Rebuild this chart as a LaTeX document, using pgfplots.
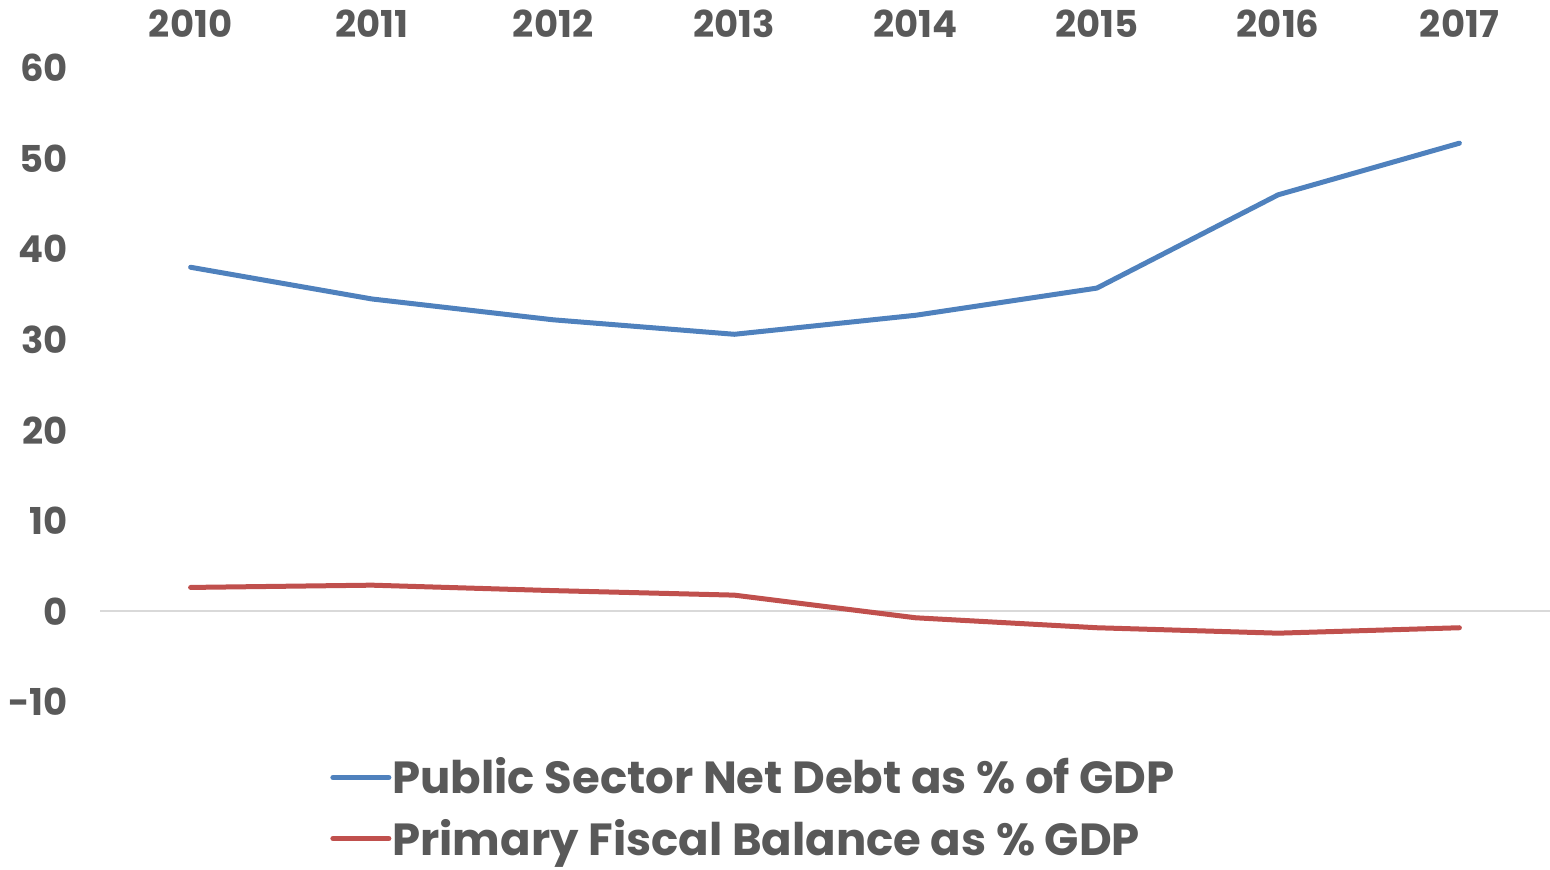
\documentclass[border=0pt]{standalone}
\usepackage{pgfplots}
\pgfplotsset{compat=1.18}
\usepackage{fontspec}
\setmainfont{Poppins}
\definecolor{txt}{HTML}{595959}
\definecolor{sblue}{HTML}{4F81BD}
\definecolor{sred}{HTML}{C0504D}
\begin{document}
\begin{tikzpicture}
\useasboundingbox (-50pt,-83.5pt) rectangle (725pt,351pt);
\begin{axis}[
  at={(0,0)}, anchor=south west,
  scale only axis, width=725pt, height=317pt,
  xmin=-0.5, xmax=7.5, ymin=-10, ymax=60,
  axis line style={draw=none},
  xtick={0,...,7},
  xticklabels={2010,2011,2012,2013,2014,2015,2016,2017},
  ytick={-10,0,...,60},
  xticklabel pos=upper,
  yticklabel pos=left,
  major tick length=0pt,
  tick style={draw=none},
  tick label style={font=\bfseries\fontsize{18.5}{21}\selectfont, text=txt},
  xticklabel style={yshift=11.5pt},
  yticklabel style={xshift=-12.5pt},
  /pgf/number format/assume math mode=true,
  clip=false,
  legend style={draw=none, fill=none, at={(0.1586,-0.086)}, anchor=north west,
    font=\bfseries\fontsize{22.5}{27}\selectfont, text=txt, inner sep=0pt,
    row sep=10pt, nodes={inner sep=0.5pt}},
  legend cell align=left,
  legend image code/.code={\draw[#1, line width=2.5pt] (0pt,0pt) -- (28pt,0pt);},
]
\addplot[forget plot, draw=black!15, line width=1pt] coordinates {(-0.5,0) (7.5,0)};
\addplot[sblue, line width=2.5pt, line cap=round, line join=round] coordinates {
 (0,38.0) (1,34.5) (2,32.2) (3,30.6) (4,32.7) (5,35.7) (6,46.0) (7,51.7)};
\addlegendentry{Public Sector Net Debt as \% of GDP}
\addplot[sred, line width=2.5pt, line cap=round, line join=round] coordinates {
 (0,2.65) (1,2.9) (2,2.3) (3,1.8) (4,-0.7) (5,-1.8) (6,-2.4) (7,-1.8)};
\addlegendentry{Primary Fiscal Balance as \% GDP}
\end{axis}
\end{tikzpicture}
\end{document}
